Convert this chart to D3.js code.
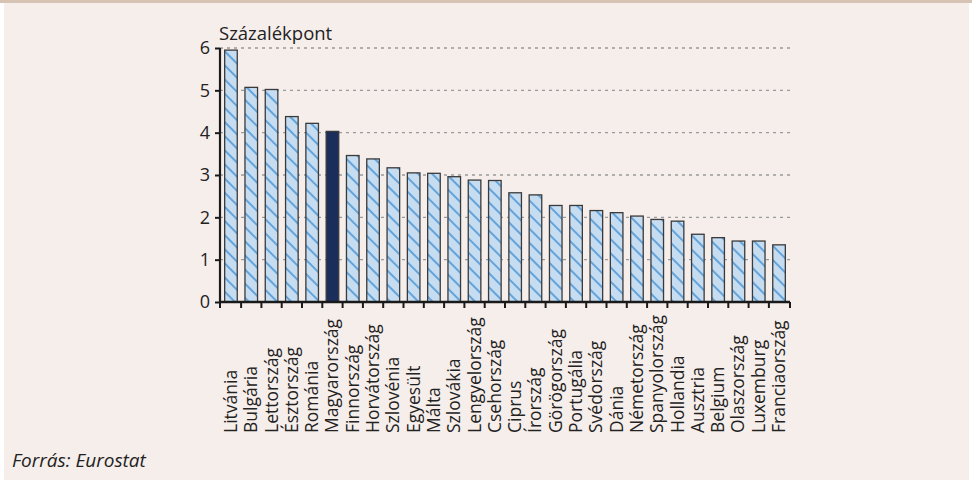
<!DOCTYPE html>
<html>
<head>
<meta charset="utf-8">
<script src="https://cdn.jsdelivr.net/npm/d3@7"></script>
<style>
  body { margin: 0; background: #ffffff; }
  svg { display: block; }
</style>
</head>
<body>
<div id="chart"></div>
<script>
// data
var countries = ["Litvánia", "Bulgária", "Lettország", "Észtország", "Románia", "Magyarország",
  "Finnország", "Horvátország", "Szlovénia", "Egyesült", "Málta", "Szlovákia", "Lengyelország",
  "Csehország", "Ciprus", "Írország", "Görögország", "Portugália", "Svédország", "Dánia",
  "Németország", "Spanyolország", "Hollandia", "Ausztria", "Belgium", "Olaszország",
  "Luxemburg", "Franciaország"];
var values = [5.95, 5.07, 5.02, 4.38, 4.22, 4.03, 3.46, 3.38, 3.17, 3.05, 3.04, 2.96, 2.88,
  2.87, 2.58, 2.53, 2.28, 2.28, 2.16, 2.11, 2.03, 1.95, 1.91, 1.60, 1.52, 1.44, 1.44, 1.35];
var highlight = "Magyarország";
var yTicks = [0, 1, 2, 3, 4, 5, 6];

var W = 972, H = 480;
var margin = {top: 48, left: 220, right: 182, bottom: 178};
var width = W - margin.left - margin.right,
    height = H - margin.top - margin.bottom;

var font = "'Open Sans', 'Noto Sans', sans-serif";

var root = d3.select("#chart").append("svg")
  .attr("width", W).attr("height", H);

// panel background
root.append("rect").attr("x", 4).attr("y", 0).attr("width", W - 7).attr("height", H)
  .attr("fill", "#f6eeeb");
root.append("rect").attr("x", 0).attr("y", 0).attr("width", W).attr("height", 3)
  .attr("fill", "#d6c3b3");

var defs = root.append("defs");
var pat = defs.append("pattern")
  .attr("id", "hatch")
  .attr("patternUnits", "userSpaceOnUse")
  .attr("width", 10).attr("height", 10)
  .attr("patternTransform", "rotate(-45)");
pat.append("rect").attr("width", 10).attr("height", 10).attr("fill", "#c6dcf0");
pat.append("line").attr("x1", 1).attr("y1", 0).attr("x2", 1).attr("y2", 10)
  .attr("stroke", "#64a4da").attr("stroke-width", 2);

var svg = root.append("g")
  .attr("transform", "translate(" + margin.left + "," + margin.top + ")");

var x = d3.scaleBand().domain(countries).range([0, width]).paddingInner(0.38).paddingOuter(0.23);
var y = d3.scaleLinear().domain([0, 6]).range([height, 0]);

// dotted grid
svg.selectAll("line.grid")
  .data(yTicks.filter(function(d) { return d > 0; }))
  .enter().append("line")
  .attr("class", "grid")
  .attr("x1", 0).attr("x2", width)
  .attr("y1", function(d) { return y(d); })
  .attr("y2", function(d) { return y(d); })
  .attr("stroke", "#9a9a9a")
  .attr("stroke-width", 1.3)
  .attr("stroke-dasharray", "3,4");

// bars
svg.selectAll("rect.bar")
  .data(countries)
  .enter().append("rect")
  .attr("class", "bar")
  .attr("x", function(d) { return x(d); })
  .attr("width", x.bandwidth())
  .attr("y", function(d, i) { return y(values[i]); })
  .attr("height", function(d, i) { return height - y(values[i]); })
  .attr("fill", function(d) { return d == highlight ? "#1b2d5b" : "url(#hatch)"; })
  .attr("stroke", "#3a3a3a")
  .attr("stroke-width", 1.3);

// y axis
var yAxis = svg.append("g")
  .call(d3.axisLeft(y).tickValues(yTicks).tickSize(5).tickPadding(5).tickFormat(d3.format("d")));
yAxis.select(".domain").attr("stroke", "#1a1a1a").attr("stroke-width", 2.2)
  .attr("d", "M0," + y(6) + "V" + height);
yAxis.selectAll(".tick line").attr("stroke", "#1a1a1a").attr("stroke-width", 2);
yAxis.selectAll("text").attr("font-family", font).attr("font-size", 18).attr("fill", "#222");

// x axis, ticks in the gaps between the bars
var gap = x.step() * x.paddingInner() / 2;
var bounds = [0].concat(countries.slice(1).map(function(d) { return x(d) - gap; })).concat([width]);
var xAxis = svg.append("g").attr("transform", "translate(0," + height + ")");
xAxis.append("line").attr("x1", -1).attr("x2", width).attr("stroke", "#1a1a1a").attr("stroke-width", 2.4);
xAxis.selectAll("line.tk").data(bounds).enter().append("line")
  .attr("class", "tk")
  .attr("x1", function(d) { return d; }).attr("x2", function(d) { return d; })
  .attr("y1", 0).attr("y2", 6)
  .attr("stroke", "#1a1a1a").attr("stroke-width", 2);

xAxis.selectAll("text.lab").data(countries).enter().append("text")
  .attr("class", "lab")
  .attr("transform", function(d) {
    return "translate(" + (x(d) + x.bandwidth() / 2 + 6) + ",131) rotate(-90)";
  })
  .attr("text-anchor", "start")
  .attr("font-family", font)
  .attr("font-size", 17.5)
  .attr("fill", "#222")
  .text(function(d) { return d; });

// unit label
root.append("text")
  .attr("x", 219).attr("y", 40)
  .attr("font-family", font).attr("font-size", 18.5).attr("fill", "#222")
  .text("Százalékpont");

// source
root.append("text")
  .attr("x", 12).attr("y", 467)
  .attr("font-family", font).attr("font-size", 19).attr("font-style", "italic").attr("fill", "#222")
  .text("Forrás: Eurostat");
</script>
</body>
</html>
